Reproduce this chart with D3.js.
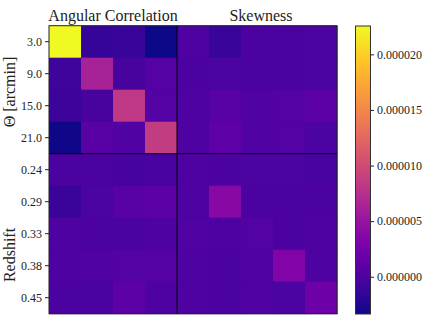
<!DOCTYPE html>
<html>
<head>
<meta charset="utf-8">
<script src="https://cdn.jsdelivr.net/npm/d3@7"></script>
<style>
  body { margin: 0; background: #fff; }
</style>
</head>
<body>
<script>
var w = 436;
var h = 327;
var serif = "'Liberation Serif'";

// row labels (top block: angular scales, bottom block: redshift bins)
var thetaLabels = ["3.0", "9.0", "15.0", "21.0"];
var redshiftLabels = ["0.24", "0.29", "0.33", "0.38", "0.45"];
var blockTitles = ["Angular Correlation", "Skewness"];
var cbarTicks = [0, 0.000005, 0.00001, 0.000015, 0.00002];

// covariance matrix (units 1e-6)
var row0 = [22.55, -1.4, -1.3, -3.35, 0.0, -1.3, -0.1, -0.1, -0.2];
var row1 = [-1.0, 6.2, -0.4, 0.4, -0.1, -0.2, -0.1, -0.1, -0.2];
var row2 = [-1.1, -0.4, 8.2, 0.3, 0.0, 0.6, 0.1, 0.3, 1.0];
var row3 = [-3.2, 0.6, 0.1, 8.6, 0.0, 1.1, 0.1, 0.3, -0.2];
var row4 = [-0.1, -0.1, -0.5, -0.3, 0.05, -0.1, -0.2, -0.2, -0.3];
var row5 = [-1.2, -0.2, 0.6, 1.0, 0.0, 3.9, -0.1, -0.1, -0.1];
var row6 = [0.0, -0.1, -0.1, 0.0, 0.1, 0.0, 0.3, -0.1, 0.0];
var row7 = [0.0, 0.1, 0.3, 0.4, 0.0, -0.1, 0.1, 3.3, 0.0];
var row8 = [-0.1, -0.1, 1.0, 0.0, 0.0, -0.1, 0.1, -0.2, 2.1];

var rows = [row0, row1, row2, row3, row4, row5, row6, row7, row8];
var rowLabels = thetaLabels.concat(redshiftLabels);

var cells = [];
rows.forEach((r, i) => r.forEach((v, j) => cells.push({ row: i, col: j, value: v * 1e-6 })));

var mLeft = 49, mTop = 25.7, mSize = 288;

var svg = d3.select("body")
    .append("svg")
    .attr("width", w)
    .attr("height", h);

var xScale = d3.scaleBand()
    .domain(d3.range(9))
    .range([mLeft, mLeft + mSize]);

var yScale = d3.scaleBand()
    .domain(d3.range(9))
    .range([mTop, mTop + mSize]);

var extent = d3.extent(cells, d => d.value);
var color = d3.scaleSequential(d3.interpolatePlasma).domain(extent);

svg.selectAll("rect.cell")
    .data(cells)
    .enter()
    .append("rect")
    .attr("class", "cell")
    .attr("x", d => xScale(d.col))
    .attr("y", d => yScale(d.row))
    .attr("width", xScale.bandwidth() + 0.5)
    .attr("height", yScale.bandwidth() + 0.5)
    .attr("fill", d => color(d.value));

// block separators
var splitX = xScale(thetaLabels.length);
var splitY = yScale(thetaLabels.length);
svg.append("line")
    .attr("x1", splitX).attr("x2", splitX)
    .attr("y1", mTop).attr("y2", mTop + mSize)
    .attr("stroke", "#000").attr("stroke-width", 1);
svg.append("line")
    .attr("x1", mLeft).attr("x2", mLeft + mSize)
    .attr("y1", splitY).attr("y2", splitY)
    .attr("stroke", "#000").attr("stroke-width", 1);

svg.append("rect")
    .attr("x", mLeft).attr("y", mTop)
    .attr("width", mSize).attr("height", mSize)
    .attr("fill", "none")
    .attr("stroke", "#222")
    .attr("stroke-width", 1);

var yAxis = d3.axisLeft(yScale)
    .tickSize(4)
    .tickPadding(3)
    .tickFormat(i => rowLabels[i]);

var gy = svg.append("g")
    .attr("transform", `translate(${mLeft},0)`)
    .call(yAxis);
gy.select(".domain").remove();
gy.selectAll("text")
    .style("font-family", serif)
    .style("font-size", "12px")
    .attr("fill", "#222");
gy.selectAll("line").attr("stroke", "#222");

// block titles
svg.append("text")
    .attr("x", (xScale(0) + splitX) / 2)
    .attr("y", 20.5)
    .attr("text-anchor", "middle")
    .style("font-family", serif)
    .style("font-size", "16px")
    .attr("fill", "#222")
    .text(blockTitles[0]);
svg.append("text")
    .attr("x", 261)
    .attr("y", 20.5)
    .attr("text-anchor", "middle")
    .style("font-family", serif)
    .style("font-size", "16px")
    .attr("fill", "#222")
    .text(blockTitles[1]);

svg.append("text")
    .attr("transform", "translate(15,92) rotate(-90)")
    .attr("text-anchor", "middle")
    .style("font-family", serif)
    .style("font-size", "16px")
    .attr("fill", "#222")
    .text("\u0398 [arcmin]");
svg.append("text")
    .attr("transform", "translate(15,255) rotate(-90)")
    .attr("text-anchor", "middle")
    .style("font-family", serif)
    .style("font-size", "16px")
    .attr("fill", "#222")
    .text("Redshift");

// colorbar
var cbX = 355.5, cbW = 15, cbTop = 26, cbBottom = 314;
var cScale = d3.scaleLinear().domain(extent).range([cbBottom, cbTop]);

var grad = svg.append("defs")
    .append("linearGradient")
    .attr("id", "cbar")
    .attr("x1", "0%").attr("x2", "0%")
    .attr("y1", "100%").attr("y2", "0%");
grad.selectAll("stop")
    .data(d3.range(0, 1.0001, 0.05))
    .enter()
    .append("stop")
    .attr("offset", d => d * 100 + "%")
    .attr("stop-color", d => d3.interpolatePlasma(d));

svg.append("rect")
    .attr("x", cbX).attr("y", cbTop)
    .attr("width", cbW).attr("height", cbBottom - cbTop)
    .attr("fill", "url(#cbar)")
    .attr("stroke", "#333")
    .attr("stroke-width", 1);

var cAxis = d3.axisRight(cScale)
    .tickValues(cbarTicks)
    .tickSize(3.5)
    .tickPadding(3)
    .tickFormat(d3.format(".6f"));

var gc = svg.append("g")
    .attr("transform", `translate(${cbX + cbW},0)`)
    .call(cAxis);
gc.select(".domain").remove();
gc.selectAll("text")
    .style("font-family", serif)
    .style("font-size", "12px")
    .attr("fill", "#222");
gc.selectAll("line").attr("stroke", "#222");
</script>
</body>
</html>
